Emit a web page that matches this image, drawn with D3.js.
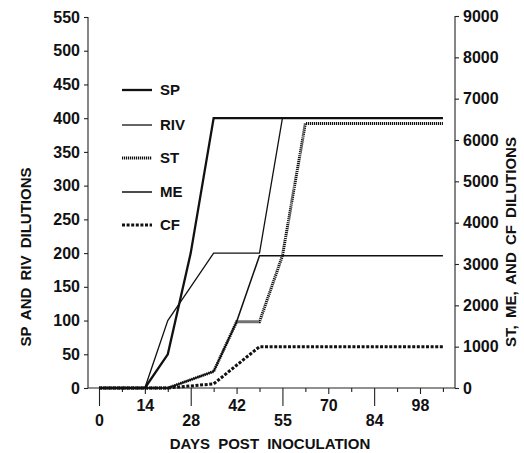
<!DOCTYPE html>
<html><head><meta charset="utf-8">
<script src="https://cdn.jsdelivr.net/npm/d3@7"></script>
<style>
html,body{margin:0;padding:0;background:#fff;}
svg{display:block;}
text{font-family:"Liberation Sans",Arial,Helvetica,sans-serif;font-weight:bold;fill:#111;}
</style></head>
<body>
<svg id="chart" width="524" height="453"></svg>
<script>
// ---- data ----
const days = [0, 7, 14, 21, 28, 35, 42, 49, 56, 63, 70, 77, 84, 91, 98, 105];
const sp  = [0, 0, 0, 50, 200, 400, 400, 400, 400, 400, 400, 400, 400, 400, 400, 400];
const riv = [0, 0, 0, 100, 150, 200, 200, 200, 400, 400, 400, 400, 400, 400, 400, 400];
const st  = [0, 0, 0, 0, 200, 400, 1600, 1600, 3200, 6400, 6400, 6400, 6400, 6400, 6400, 6400];
const me  = [0, 0, 0, 0, 200, 400, 1600, 3200, 3200, 3200, 3200, 3200, 3200, 3200, 3200, 3200];
const cf  = [0, 0, 0, 0, 50, 100, 550, 1000, 1000, 1000, 1000, 1000, 1000, 1000, 1000, 1000];
const seriesNames = ["SP", "RIV", "ST", "ME", "CF"];
const xTickDays = [0, 14, 28, 42, 56, 70, 84, 98];
const xTickLabels = ["0", "14", "28", "42", "55", "70", "84", "98"];
const xMinorDays = [7, 21, 35, 49, 63, 77, 91, 105];
const yLeftTicks = [0, 50, 100, 150, 200, 250, 300, 350, 400, 450, 500, 550];
const yRightTicks = [0, 1000, 2000, 3000, 4000, 5000, 6000, 7000, 8000, 9000];

// ---- layout ----
const svg = d3.select("#chart");
const x = d3.scaleLinear().domain([0, 98]).range([99, 420]);
const yL = d3.scaleLinear().domain([0, 550]).range([388, 17]);
const yR = d3.scaleLinear().domain([0, 9000]).range([388, 16]);
const axLeftX = 88, axRightX = 455, baseY = 388;
const tickFont = "16px";

const styles = {
  SP:  {w: 2.3, dash: null, axis: "L", vals: sp},
  RIV: {w: 1.3, dash: null, axis: "L", vals: riv},
  ST:  {w: 3.0, dash: "1.2,0.8", axis: "R", vals: st},
  ME:  {w: 1.5, dash: null, axis: "R", vals: me},
  CF:  {w: 3.0, dash: "3,1.6", axis: "R", vals: cf}
};

// left axis
const gL = svg.append("g").attr("transform", `translate(${axLeftX},0)`)
  .call(d3.axisLeft(yL).tickValues(yLeftTicks).tickSize(4).tickSizeOuter(0).tickPadding(4).tickFormat(d3.format("d")));
// right axis
const gR = svg.append("g").attr("transform", `translate(${axRightX},0)`)
  .call(d3.axisRight(yR).tickValues(yRightTicks).tickSize(4).tickSizeOuter(0).tickPadding(4).tickFormat(d3.format("d")));
[gL, gR].forEach(g => {
  g.selectAll("text").style("font-size", tickFont).style("font-family", '"Liberation Sans",Arial,sans-serif').style("font-weight", "bold").attr("fill", "#111");
  g.selectAll("line,path").attr("stroke", "#222").attr("stroke-width", 1.1);
});
gL.select(".domain").attr("d", `M0,${yL(550)}V${baseY}`);
gR.select(".domain").attr("d", `M0,${yR(9000)}V${baseY}`);

// x baseline
svg.append("line").attr("x1", axLeftX).attr("x2", axRightX).attr("y1", baseY).attr("y2", baseY)
  .attr("stroke", "#222").attr("stroke-width", 1.1);

// x minor ticks
const gMinor = svg.append("g").attr("transform", `translate(0,${baseY})`)
  .call(d3.axisBottom(x).tickValues(xMinorDays).tickSize(4).tickFormat(""));
// upper row ticks & labels
const upperIdx = [1, 3, 5, 7], lowerIdx = [0, 2, 4, 6];
const fmt = d => xTickLabels[xTickDays.indexOf(d)];
const gUp = svg.append("g").attr("transform", `translate(0,${baseY})`)
  .call(d3.axisBottom(x).tickValues(upperIdx.map(i => xTickDays[i])).tickSize(6).tickPadding(6).tickFormat(fmt));
const gLo = svg.append("g").attr("transform", `translate(0,${baseY})`)
  .call(d3.axisBottom(x).tickValues(lowerIdx.map(i => xTickDays[i])).tickSize(18).tickPadding(9).tickFormat(fmt));
[gMinor, gUp, gLo].forEach(g => {
  g.select(".domain").remove();
  g.selectAll("line").attr("stroke", "#222").attr("stroke-width", 1.1);
  g.selectAll("text").style("font-size", tickFont).style("font-family", '"Liberation Sans",Arial,sans-serif').style("font-weight", "bold").attr("fill", "#111");
});

// lines
seriesNames.forEach(name => {
  const s = styles[name];
  const yS = s.axis === "L" ? yL : yR;
  const line = d3.line().x((d, i) => x(days[i])).y(d => yS(d));
  svg.append("path").datum(s.vals)
    .attr("d", line)
    .attr("fill", "none")
    .attr("stroke", "#111")
    .attr("stroke-width", s.w)
    .attr("stroke-dasharray", s.dash)
    .attr("stroke-linejoin", "miter");
});

// legend
const legY = [90, 125, 158, 192, 225];
seriesNames.forEach((name, i) => {
  const s = styles[name];
  svg.append("line").attr("x1", 122).attr("x2", 152).attr("y1", legY[i]).attr("y2", legY[i])
    .attr("stroke", "#111").attr("stroke-width", s.w).attr("stroke-dasharray", s.dash);
  svg.append("text").attr("x", 160).attr("y", legY[i]).attr("dy", "0.36em")
    .style("font-size", "15px").text(name);
});

// axis titles
svg.append("text").attr("x", 270).attr("y", 449).attr("text-anchor", "middle")
  .style("font-size", "15px").style("word-spacing", "4px").text("DAYS POST INOCULATION");
svg.append("text").attr("transform", "translate(31,257) rotate(-90)").attr("text-anchor", "middle")
  .style("font-size", "15px").style("word-spacing", "3px").text("SP AND RIV DILUTIONS");
svg.append("text").attr("transform", "translate(516,242) rotate(-90)").attr("text-anchor", "middle")
  .style("font-size", "15px").style("word-spacing", "3px").text("ST, ME, AND CF DILUTIONS");
</script>
</body></html>
